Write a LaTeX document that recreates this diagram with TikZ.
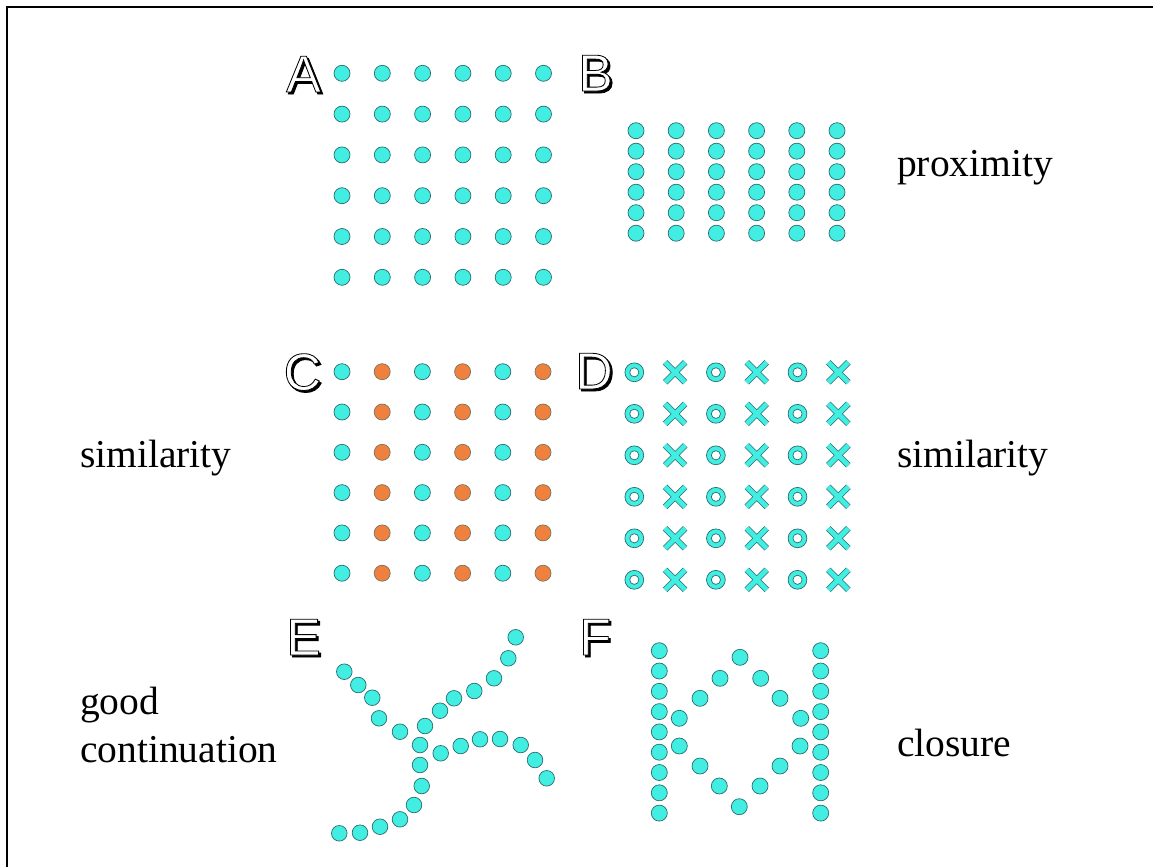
\documentclass[tikz,border=0pt]{standalone}
\usepackage{fontspec}
\setmainfont{Liberation Serif}
\newfontfamily\lettfont{Liberation Sans}
\newfontfamily\lettoutfont[FakeBold=1.6]{Liberation Sans}
\usetikzlibrary{calc}
\definecolor{dotcyan}{RGB}{66,238,226}
\definecolor{dotorange}{RGB}{240,128,62}
\definecolor{dotedge}{RGB}{40,110,110}
\tikzset{
  lbl/.style={anchor=base west, inner sep=0pt, font=\fontsize{39.5}{48}\selectfont},
  lettr/.style={anchor=base west, inner sep=0pt, font=\lettfont\fontsize{52}{60}\selectfont},
  lettro/.style={anchor=base west, inner sep=0pt, font=\lettoutfont\fontsize{52}{60}\selectfont},
  cdot/.style={fill=dotcyan, draw=dotedge, line width=0.7pt},
  odot/.style={fill=dotorange, draw=dotedge!60!dotorange, line width=0.7pt},
  framel/.style={line width=2.8pt, draw=black}
}
\newcommand{\glet}[4]{%
  \node[lettro,text=black] (#1s) at (#2+2,#3+2) {#4};
  \node[lettro] (#1) at (#2,#3) {\special{pdf:bcolor [1 1 1] [0 0 0]}#4\special{pdf:ecolor}};
}
\begin{document}
\begin{tikzpicture}[x=1pt,y=-1pt]
\useasboundingbox (0,0) rectangle (1153,867);
\fill[white] (0,0) rectangle (1153,867);
% frame (top and left only)
\draw[framel] (7,867) -- (7,7) -- (1153,7);
% letters
\glet{A}{286}{92}{A}
\glet{B}{578}{91}{B}
\glet{C}{283.5}{390}{C}
\glet{D}{575}{389}{D}
\glet{E}{286}{655}{E}
\glet{F}{579}{655}{F}
% A grid
\foreach \i in {0,...,5}{\foreach \j in {0,...,5}{
  \filldraw[cdot] (342+40.3*\j,73.3+40.8*\i) circle (8);}}
% B grid
\foreach \i in {0,...,5}{\foreach \j in {0,...,5}{
  \filldraw[cdot] (636+40.2*\j,130.7+20.5*\i) circle (8);}}
% C grid
\foreach \i in {0,...,5}{
  \foreach \j in {0,2,4}{\filldraw[cdot] (342+40.2*\j,371.7+40.3*\i) circle (8);}
  \foreach \j in {1,3,5}{\filldraw[odot] (342+40.2*\j,371.7+40.3*\i) circle (8);}}
% D grid
\foreach \i in {0,...,5}{
  \foreach \j in {0,2,4}{
    \filldraw[cdot] (634.3+40.8*\j,372.3+41.5*\i) circle (9.4);
    \filldraw[fill=white, draw=dotedge, line width=0.7pt] (634.3+40.8*\j,372.3+41.5*\i) circle (4.6);}
  \foreach \j in {1,3,5}{
    \draw[dotedge, line width=6.2pt] (634.3+40.8*\j-10,372.3+41.5*\i-10) -- ++(20,20) (634.3+40.8*\j+10,372.3+41.5*\i-10) -- ++(-20,20);
    \draw[dotcyan, line width=4.8pt] (634.3+40.8*\j-10,372.3+41.5*\i-10) -- ++(20,20) (634.3+40.8*\j+10,372.3+41.5*\i-10) -- ++(-20,20);}}
% E curves
\foreach \p in {(344.3,671.7),(358.3,685),(372.3,697.7),(379,718.3),(400,731.7),(420,745),(420,765),(421.7,786),(414,805),(400,819.3),(380,826.7),(360,832.7),(339.3,833.3),
  (425,726),(440,710.7),(454,698.3),(474.3,691),(494,678.3),(508.3,658.3),(515.7,637.3),
  (440.7,753.3),(460.7,746),(480,739.3),(500,739),(520.7,745),(535,760),(546.7,778.3)}{
  \filldraw[cdot] \p circle (7.8);}
% F
\foreach \i in {0,...,8}{
  \filldraw[cdot] (659.3,650.7+20.3*\i) circle (8);
  \filldraw[cdot] (820.7,650.7+20.3*\i) circle (8);}
\foreach \p in {(740,657.3),(720,678.3),(760.7,678.3),(700,698.3),(780,698.3),(679.3,718.3),(800.7,718.3),(679.3,746),(800,746),(700,766),(780,766),(719.3,786),(760,786),(739.3,806.7)}{
  \filldraw[cdot] \p circle (8);}
% labels
\node[lbl] (prox) at (897,176) {proximity};
\node[lbl] (simL) at (80,467) {similarity};
\node[lbl] (simR) at (897,467) {similarity};
\node[lbl] (good) at (80,714) {good};
\node[lbl] (cont) at (80,762) {continuation};
\node[lbl] (clos) at (897,756) {closure};
\end{tikzpicture}
\end{document}
